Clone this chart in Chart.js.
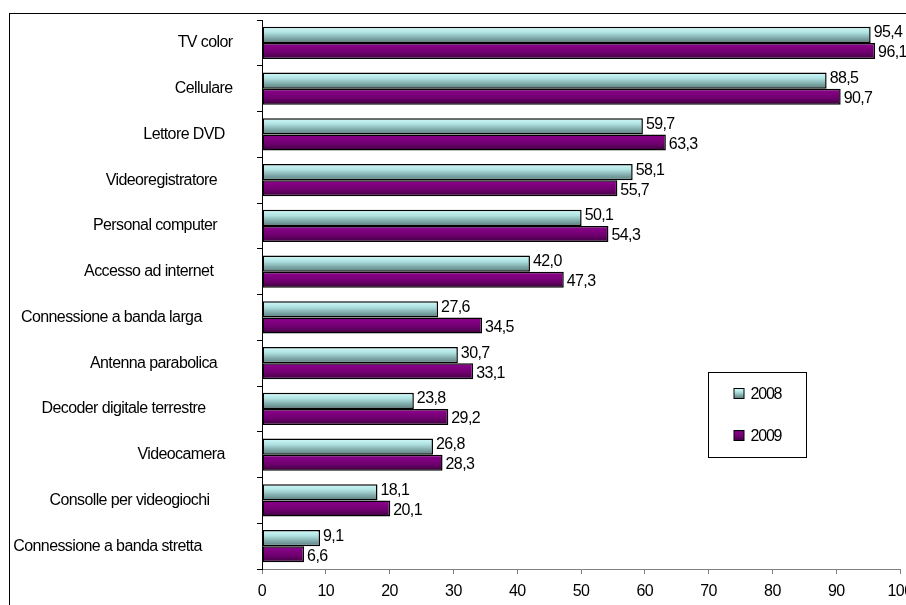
<!DOCTYPE html>
<html>
<head>
<meta charset="utf-8">
<script src="https://cdn.jsdelivr.net/npm/chart.js@4/dist/chart.umd.min.js"></script>
<style>
  html, body { margin: 0; padding: 0; background: #fff; overflow: hidden; }
  #wrap { width: 940px; height: 605px; }
</style>
</head>
<body>
<div id="wrap"><canvas id="c" width="940" height="605"></canvas></div>
<script>
// Diffusione di beni tecnologici nelle famiglie (%), 2008 e 2009
const categories = [
  'TV color',
  'Cellulare',
  'Lettore DVD',
  'Videoregistratore',
  'Personal computer',
  'Accesso ad internet',
  'Connessione a banda larga',
  'Antenna parabolica',
  'Decoder digitale terrestre',
  'Videocamera',
  'Consolle per videogiochi',
  'Connessione a banda stretta'
];
const seriesLabels = ['2008', '2009'];
const values2008 = [95.4, 88.5, 59.7, 58.1, 50.1, 42.0, 27.6, 30.7, 23.8, 26.8, 18.1, 9.1];
const values2009 = [96.1, 90.7, 63.3, 55.7, 54.3, 47.3, 34.5, 33.1, 29.2, 28.3, 20.1, 6.6];
const xTicks = [0, 10, 20, 30, 40, 50, 60, 70, 80, 90, 100];

const FONT = { family: "'Liberation Sans', Arial, sans-serif", size: 16 };
const FONT_CSS = `${FONT.size}px ${FONT.family}`;
const SPACING = '-0.6px';

// gradient stops per series (top -> bottom of each bar)
const gradStops = [
  [[0, '#d2fafa'], [0.35, '#b0e2e2'], [0.7, '#7fa8a8'], [1, '#5a7e7e']],
  [[0, '#5a005a'], [0.15, '#880088'], [0.6, '#6e006e'], [1, '#3e003e']]
];
const flatFill = ['#a8dcdc', '#6a006a'];

function barFill(ctx) {
  const chart = ctx.chart;
  const ys = chart.scales && chart.scales.y;
  const di = ctx.datasetIndex, i = ctx.dataIndex;
  if (!ys || i === undefined || !isFinite(ys.height) || ys.height <= 0) return flatFill[di];
  const step = ys.height / categories.length;
  const thick = step * 0.7 / 2;
  const centre = ys.getPixelForValue(i);
  if (!isFinite(centre) || !isFinite(thick)) return flatFill[di];
  const top = di === 0 ? centre - thick : centre;
  const g = chart.ctx.createLinearGradient(0, top, 0, top + thick);
  gradStops[di].forEach(s => g.addColorStop(s[0], s[1]));
  return g;
}

// category labels are anchored a little to the left of the axis,
// proportionally to their length (trailing blank space)
const measureCtx = document.createElement('canvas').getContext('2d');
measureCtx.font = FONT_CSS;
measureCtx.letterSpacing = SPACING;
const spaceW = measureCtx.measureText(' ').width;
function categoryTick(value) {
  const label = this.getLabelForValue(value);
  const w = measureCtx.measureText(label).width;
  const n = Math.max(0, Math.round(0.225 * w / spaceW));
  return label + ' '.repeat(n);
}

const spacingPlugin = {
  id: 'spacing',
  beforeUpdate(chart) { chart.ctx.letterSpacing = SPACING; },
  beforeLayout(chart) { chart.ctx.letterSpacing = SPACING; },
  beforeDraw(chart) { chart.ctx.letterSpacing = SPACING; }
};

// outer frame of the chart object
const framePlugin = {
  id: 'frame',
  afterDraw(chart) {
    const c = chart.ctx;
    c.save();
    c.strokeStyle = '#000';
    c.lineWidth = 1;
    c.strokeRect(9.5, 13.5, 1200, 1200);
    c.restore();
  }
};

// value labels at the end of every bar, with decimal comma
const valueLabels = {
  id: 'valueLabels',
  afterDatasetsDraw(chart) {
    const c = chart.ctx;
    c.save();
    c.letterSpacing = SPACING;
    c.font = FONT_CSS;
    c.fillStyle = '#000';
    c.textAlign = 'left';
    c.textBaseline = 'middle';
    chart.data.datasets.forEach((ds, di) => {
      chart.getDatasetMeta(di).data.forEach((bar, i) => {
        const txt = ds.data[i].toFixed(1).replace('.', ',');
        const dy = di === 0 ? -2 : 2;
        c.fillText(txt, bar.x + 3, bar.y + dy);
      });
    });
    c.restore();
  }
};

// boxed legend inside the plot area
const boxLegend = {
  id: 'boxLegend',
  afterDraw(chart) {
    const c = chart.ctx;
    const x = 708.5, y = 372.5, w = 98, h = 85;
    c.save();
    c.fillStyle = '#fff';
    c.fillRect(x, y, w, h);
    c.strokeStyle = '#000';
    c.lineWidth = 1;
    c.strokeRect(x, y, w, h);
    c.letterSpacing = '-1.2px';
    c.font = FONT_CSS;
    c.textBaseline = 'middle';
    chart.data.datasets.forEach((ds, di) => {
      const cy = y + 21 + di * 42;
      const g = c.createLinearGradient(0, cy - 5, 0, cy + 5);
      gradStops[di].forEach(s => g.addColorStop(s[0], s[1]));
      c.fillStyle = g;
      c.fillRect(x + 25.5, cy - 5, 10, 10);
      c.strokeStyle = '#000';
      c.strokeRect(x + 25.5, cy - 5, 10, 10);
      c.fillStyle = '#000';
      c.fillText(ds.label, x + 42, cy + 1);
    });
    c.restore();
  }
};

new Chart(document.getElementById('c'), {
  type: 'bar',
  data: {
    labels: categories,
    datasets: [
      { label: seriesLabels[0], data: values2008, backgroundColor: barFill, borderColor: '#000', borderWidth: 1.5, borderSkipped: false },
      { label: seriesLabels[1], data: values2009, backgroundColor: barFill, borderColor: '#000', borderWidth: 1.5, borderSkipped: false }
    ]
  },
  options: {
    indexAxis: 'y',
    responsive: false,
    animation: false,
    devicePixelRatio: 1,
    layout: { padding: { top: 20, right: 40, left: 0, bottom: 0 } },
    datasets: { bar: { categoryPercentage: 0.7, barPercentage: 1.0 } },
    plugins: { legend: { display: false }, tooltip: { enabled: false } },
    scales: {
      x: {
        min: 0, max: 100,
        afterBuildTicks(scale) { scale.ticks = xTicks.map(v => ({ value: v })); },
        afterFit(scale) { scale.height = 36; },
        grid: { display: true, drawOnChartArea: false, drawTicks: true, tickLength: 5, color: '#808080' },
        border: { display: true, color: '#808080', width: 1 },
        ticks: { color: '#000', font: FONT, padding: 8, maxRotation: 0, autoSkip: false }
      },
      y: {
        afterFit(scale) {
          scale.width = 262;
          scale.paddingTop = 0;
          scale.paddingBottom = 0;
        },
        grid: { display: true, drawOnChartArea: false, drawTicks: true, tickLength: 5, color: '#000', offset: true },
        border: { display: true, color: '#000', width: 1 },
        ticks: { color: '#000', font: FONT, padding: 13, autoSkip: false, callback: categoryTick }
      }
    }
  },
  plugins: [spacingPlugin, valueLabels, boxLegend, framePlugin]
});
</script>
</body>
</html>
